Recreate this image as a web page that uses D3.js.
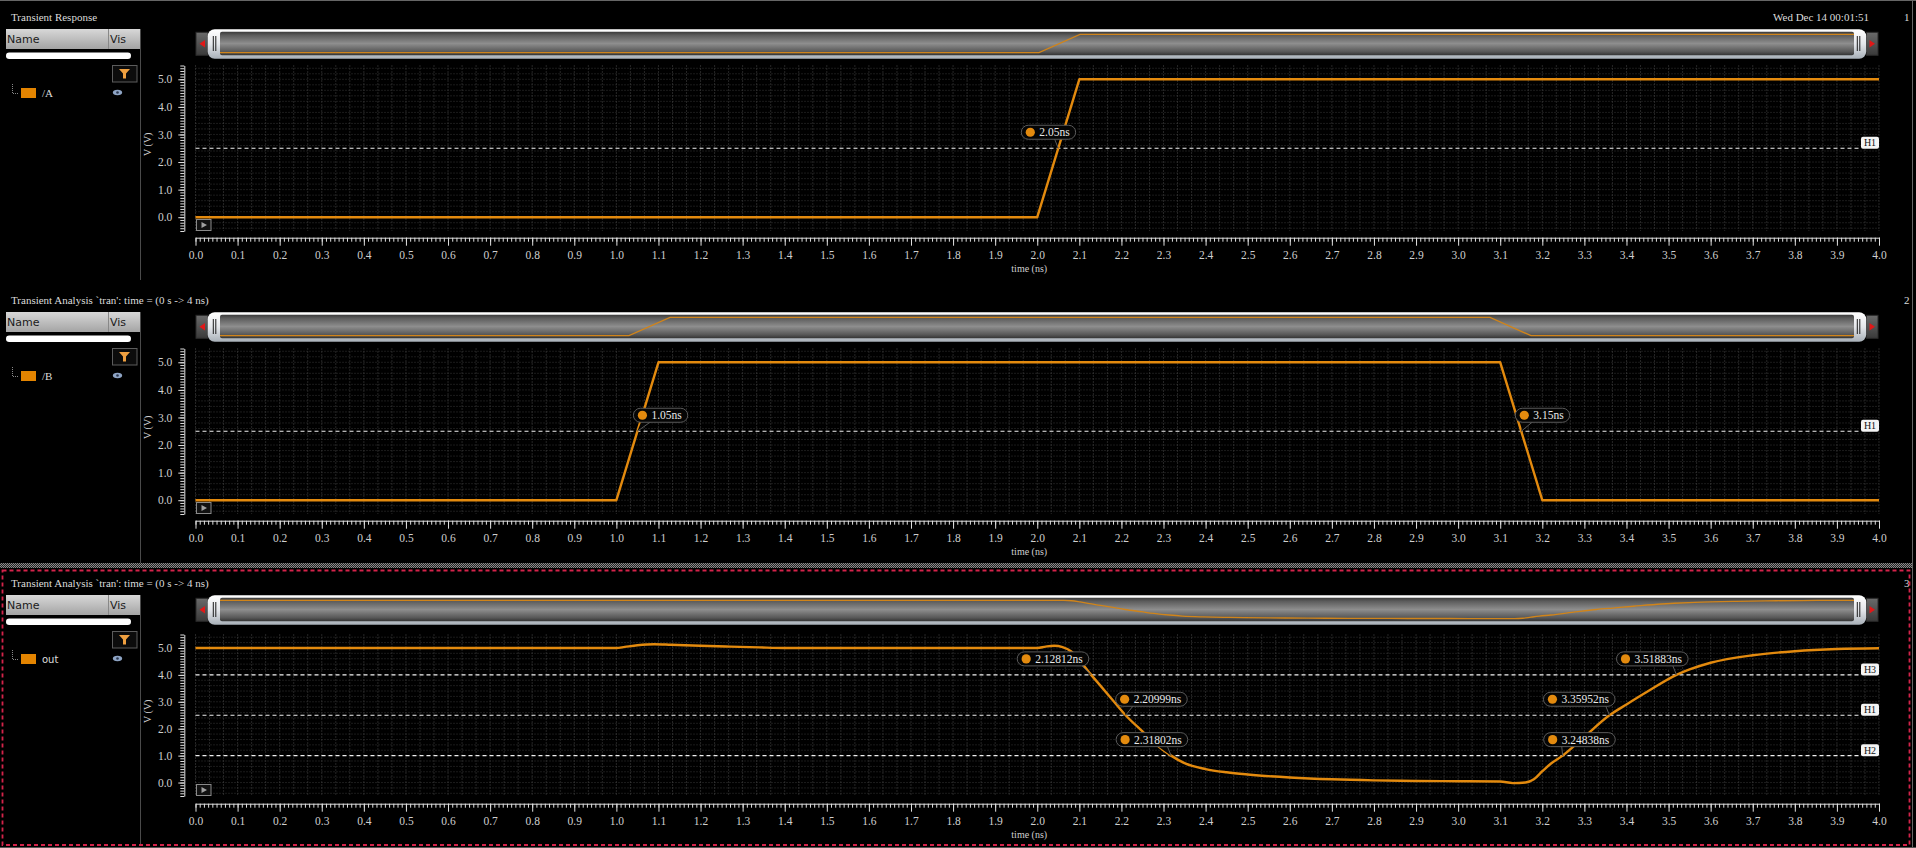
<!DOCTYPE html>
<html>
<head>
<meta charset="utf-8">
<script src="https://cdn.jsdelivr.net/npm/d3@7"></script>
<style>
  html, body { margin: 0; padding: 0; background: #000; overflow: hidden; }
  svg { display: block; }
</style>
</head>
<body>
<div id="chart"></div>
<script>
var W = 1916, H = 848;
var SERIF = '"Liberation Serif", "DejaVu Serif", serif';
var SANS = '"DejaVu Sans", "Noto Sans", sans-serif';
var ORANGE = "#e38a0e";

// tick labels
var timeTicks = [0.0, 0.1, 0.2, 0.3, 0.4, 0.5, 0.6, 0.7, 0.8, 0.9, 1.0, 1.1, 1.2, 1.3, 1.4, 1.5, 1.6, 1.7, 1.8, 1.9,
  2.0, 2.1, 2.2, 2.3, 2.4, 2.5, 2.6, 2.7, 2.8, 2.9, 3.0, 3.1, 3.2, 3.3, 3.4, 3.5, 3.6, 3.7, 3.8, 3.9, 4.0];
var voltTicks = [0, 1, 2, 3, 4, 5];

// signal /A
var aTime = [0, 2.0, 2.1, 4.0];
var aVolt = [0, 0, 5, 5];
// signal /B
var bTime = [0, 1.0, 1.1, 3.1, 3.2, 4.0];
var bVolt = [0, 0, 5, 5, 0, 0];
// signal out
var outTime = [0, 1.0, 1.02, 1.05, 1.09, 1.13, 1.2, 1.27, 1.34, 1.4, 2.0, 2.02, 2.04, 2.06, 2.08, 2.1,
  2.12812, 2.15, 2.18, 2.20999, 2.25, 2.28, 2.31802, 2.35, 2.4, 2.45, 2.5, 2.6, 2.7, 2.8, 2.9, 3.0, 3.1,
  3.13, 3.16, 3.18, 3.2, 3.22, 3.24838, 3.3, 3.35952, 3.4, 3.45, 3.51883, 3.55, 3.6, 3.7, 3.8, 3.9, 4.0];
var outVolt = [5.0, 5.0, 5.04, 5.1, 5.14, 5.12, 5.08, 5.05, 5.02, 5.0, 5.0, 5.05, 5.08, 5.03, 4.88, 4.55,
  4.0, 3.6, 3.05, 2.5, 1.9, 1.45, 1.0, 0.72, 0.5, 0.38, 0.3, 0.19, 0.12, 0.08, 0.06, 0.05, 0.04,
  -0.02, 0.0, 0.12, 0.42, 0.7, 1.0, 1.7, 2.5, 2.9, 3.38, 4.0, 4.2, 4.45, 4.73, 4.88, 4.96, 4.99];

// crossing markers
var aMarkers = [{t: 2.05, v: 2.5, label: "2.05ns"}];
var bMarkers = [{t: 1.05, v: 2.5, label: "1.05ns"}, {t: 3.15, v: 2.5, label: "3.15ns"}];
var outMarkers = [
  {t: 2.12812, v: 4.0, label: "2.12812ns"}, {t: 2.20999, v: 2.5, label: "2.20999ns"},
  {t: 2.31802, v: 1.0, label: "2.31802ns"}, {t: 3.24838, v: 1.0, label: "3.24838ns"},
  {t: 3.35952, v: 2.5, label: "3.35952ns"}, {t: 3.51883, v: 4.0, label: "3.51883ns"}];

// horizontal marker levels
var aLevels = [{name: "H1", v: 2.5}];
var bLevels = [{name: "H1", v: 2.5}];
var outLevels = [{name: "H3", v: 4.0}, {name: "H1", v: 2.5}, {name: "H2", v: 1.0}];

var panels = [
  {title: "Transient Response", signal: "/A", font: SERIF, time: aTime, volt: aVolt, curve: d3.curveLinear,
    markers: aMarkers, levels: aLevels, boxDx: [-37], yr: [231, 65.5]},
  {title: "Transient Analysis `tran': time = (0 s -> 4 ns)", signal: "/B", font: SERIF, time: bTime, volt: bVolt,
    curve: d3.curveLinear, markers: bMarkers, levels: bLevels, boxDx: [-4, -6], yr: [231, 65.5]},
  {title: "Transient Analysis `tran': time = (0 s -> 4 ns)", signal: "out", font: SANS, time: outTime, volt: outVolt,
    curve: d3.curveMonotoneX, markers: outMarkers, levels: outLevels, boxDx: [-74, -10, -55, -19, -66, -60],
    yr: [230, 68.5]}
];

var svg = d3.select("#chart").append("svg")
  .attr("width", W).attr("height", H)
  .style("background", "#000");

var defs = svg.append("defs");
function grad(id, stops) {
  var g = defs.append("linearGradient").attr("id", id)
    .attr("x1", 0).attr("y1", 0).attr("x2", 0).attr("y2", 1);
  stops.forEach(function (s) {
    g.append("stop").attr("offset", s[0]).attr("stop-color", s[1]);
  });
}
grad("hdr", [[0, "#d8d8d8"], [1, "#a4a4a4"]]);
grad("bezel", [[0, "#ffffff"], [0.5, "#e4e6ea"], [1, "#a8b0b8"]]);
grad("body", [[0, "#3a3a3a"], [0.15, "#5c5c5c"], [0.5, "#8e8e8e"], [0.85, "#575757"], [1, "#333"]]);
grad("btn", [[0, "#6a6a6a"], [1, "#3a3a3a"]]);

var hatch = defs.append("pattern").attr("id", "hatch")
  .attr("width", 2).attr("height", 2).attr("patternUnits", "userSpaceOnUse");
hatch.append("rect").attr("width", 2).attr("height", 2).attr("fill", "#222");
hatch.append("rect").attr("width", 1).attr("height", 1).attr("fill", "#8a8a8a");
hatch.append("rect").attr("x", 1).attr("y", 1).attr("width", 1).attr("height", 1).attr("fill", "#8a8a8a");

var x = d3.scaleLinear().domain([0, 4]).range([195.5, 1879]);
var xm = d3.scaleLinear().domain([0, 4]).range([219, 1859]);

// outer frame
svg.append("line").attr("x1", 0).attr("x2", W).attr("y1", 0.5).attr("y2", 0.5).attr("stroke", "#666");
svg.append("line").attr("x1", 1912.5).attr("x2", 1912.5).attr("y1", 0).attr("y2", H).attr("stroke", "#666");
svg.append("line").attr("x1", 0).attr("x2", W).attr("y1", 847.5).attr("y2", 847.5).attr("stroke", "#555");
svg.append("rect").attr("x", 0).attr("y", 563).attr("width", 1912).attr("height", 5).attr("fill", "url(#hatch)");

panels.forEach(function (p, i) {
  var oy = i * 283;
  var g = svg.append("g");
  var y = d3.scaleLinear().domain([-0.5, 5.5]).range([oy + p.yr[0], oy + p.yr[1]]);
  var ym = d3.scaleLinear().domain([0, 5]).range([oy + 52.7, oy + 34.3]);
  var pts = p.time.map(function (t, k) { return {t: t, v: p.volt[k]}; });

  // grid
  var grid = g.append("g");
  grid.selectAll(".hg").data(y.ticks(30)).join("line")
    .attr("x1", x(0)).attr("x2", x(4))
    .attr("y1", function (d) { return y(d); }).attr("y2", function (d) { return y(d); })
    .attr("stroke", "#363636").attr("stroke-dasharray", "1,2");
  grid.selectAll(".vg").data(d3.range(0, 4.0001, 0.1 / 3)).join("line")
    .attr("x1", function (d) { return x(d); }).attr("x2", function (d) { return x(d); })
    .attr("y1", y(5.5)).attr("y2", y(-0.5))
    .attr("stroke", "#4a4a4a").attr("stroke-dasharray", "1,2");

  // y axis
  g.append("g").attr("transform", "translate(184.3,0)").attr("color", "#e0e0e0")
    .call(d3.axisLeft(y).ticks(60).tickSize(4).tickSizeOuter(0).tickFormat(""));
  var yb = g.append("g").attr("transform", "translate(184.3,0)").attr("color", "#e0e0e0")
    .call(d3.axisLeft(y).tickValues(voltTicks).tickSize(6).tickPadding(6).tickSizeOuter(0)
      .tickFormat(d3.format(".1f")));
  yb.select(".domain").remove();
  yb.selectAll("text").attr("fill", "#cfcfcf").style("font-family", SERIF).style("font-size", "11.5px");

  g.append("text").attr("transform", "translate(151," + (y(2.5) - 4) + ") rotate(-90)")
    .attr("text-anchor", "middle").attr("fill", "#cfcfcf")
    .style("font-family", SERIF).style("font-size", "10px").text("V (V)");

  // x axis
  g.append("g").attr("transform", "translate(0," + (oy + 237.7) + ")").attr("color", "#e0e0e0")
    .call(d3.axisBottom(x).ticks(400).tickSize(4).tickSizeOuter(0).tickFormat(""));
  var xb = g.append("g").attr("transform", "translate(0," + (oy + 237.7) + ")").attr("color", "#e0e0e0")
    .call(d3.axisBottom(x).tickValues(timeTicks).tickSize(8).tickPadding(5).tickSizeOuter(0)
      .tickFormat(d3.format(".1f")));
  xb.select(".domain").remove();
  xb.selectAll("text").attr("fill", "#cfcfcf").style("font-family", SERIF).style("font-size", "11.5px");

  g.append("text").attr("x", (x(0) + x(4)) / 2 - 8).attr("y", oy + 271.5)
    .attr("text-anchor", "middle").attr("fill", "#cfcfcf")
    .style("font-family", SERIF).style("font-size", "10px").text("time (ns)");

  // level lines
  p.levels.forEach(function (l) {
    g.append("line").attr("x1", x(0)).attr("x2", x(4) - 18)
      .attr("y1", y(l.v)).attr("y2", y(l.v))
      .attr("stroke", "#f0f0f0").attr("stroke-width", 1.2).attr("stroke-dasharray", "4,3");
  });

  // waveform
  var line = d3.line().curve(p.curve)
    .x(function (d) { return x(d.t); }).y(function (d) { return y(d.v); });
  g.append("path").datum(pts).attr("d", line)
    .attr("fill", "none").attr("stroke", ORANGE).attr("stroke-width", 2.4)
    .attr("stroke-linejoin", "round");

  // level labels
  p.levels.forEach(function (l) {
    g.append("rect").attr("x", x(4) - 18).attr("y", y(l.v) - 11.5).attr("width", 18).attr("height", 12)
      .attr("rx", 2).attr("fill", "#f4f4f4");
    g.append("text").attr("x", x(4) - 9).attr("y", y(l.v) - 2)
      .attr("text-anchor", "middle").attr("fill", "#111")
      .style("font-family", SERIF).style("font-size", "10px").text(l.name);
  });

  // crossing callouts
  p.markers.forEach(function (m, k) {
    var cx = x(m.t), cy = y(m.v);
    var bx = cx + p.boxDx[k], by = cy - 23, bh = 14;
    var call = g.append("g");
    var txt = call.append("text").attr("x", bx + 18).attr("y", by + 11)
      .attr("fill", "#e8e8e8").style("font-family", SERIF).style("font-size", "11.5px").text(m.label);
    var bw = txt.node().getComputedTextLength() + 24;
    var base = Math.max(bx + 8, Math.min(cx - 14, bx + bw - 18));
    call.insert("path", "text")
      .attr("d", "M" + base + "," + (by + bh - 1) + "L" + (base + 10) + "," + (by + bh - 1) + "L" + cx + "," + cy)
      .attr("fill", "#050505").attr("stroke", "#5a5a5a");
    call.insert("rect", "text").attr("x", bx).attr("y", by).attr("width", bw).attr("height", bh)
      .attr("rx", 7).attr("fill", "#050505").attr("stroke", "#5a5a5a");
    call.insert("circle", "text").attr("cx", bx + 9).attr("cy", by + bh / 2).attr("r", 4.6)
      .attr("fill", ORANGE);
  });

  // play button in plot corner
  g.append("rect").attr("x", 196.5).attr("y", y(-0.5) - 11.5).attr("width", 14.5).attr("height", 11)
    .attr("fill", "#111").attr("stroke", "#8a8a8a");
  g.append("path").attr("d", "M201.5," + (y(-0.5) - 9) + "L207," + (y(-0.5) - 6) + "L201.5," + (y(-0.5) - 3) + "Z")
    .attr("fill", "#a0a0a0");

  // title and panel number
  g.append("text").attr("x", 11).attr("y", oy + 21).attr("fill", "#dcdcdc")
    .style("font-family", SERIF).style("font-size", "11px").text(p.title);
  g.append("text").attr("x", 1904).attr("y", oy + 21).attr("fill", "#dcdcdc")
    .style("font-family", SERIF).style("font-size", "11px").text(String(i + 1));

  // signal list sidebar
  g.append("line").attr("x1", 140.5).attr("x2", 140.5).attr("y1", oy + 29).attr("y2", oy + 280)
    .attr("stroke", "#4a4a4a");
  g.append("rect").attr("x", 6).attr("y", oy + 29).attr("width", 134).attr("height", 20).attr("fill", "url(#hdr)");
  g.append("line").attr("x1", 108.5).attr("x2", 108.5).attr("y1", oy + 29).attr("y2", oy + 49).attr("stroke", "#888");
  g.append("text").attr("x", 7).attr("y", oy + 43).attr("fill", "#1a1a1a")
    .style("font-family", SANS).style("font-size", "11px").text("Name");
  g.append("text").attr("x", 110).attr("y", oy + 43).attr("fill", "#1a1a1a")
    .style("font-family", SANS).style("font-size", "11px").text("Vis");
  g.append("rect").attr("x", 6).attr("y", oy + 52.5).attr("width", 125).attr("height", 6.5).attr("rx", 3.2)
    .attr("fill", "#fff");
  g.append("rect").attr("x", 112.5).attr("y", oy + 65.5).attr("width", 24.5).attr("height", 16.5)
    .attr("fill", "#0c0c0c").attr("stroke", "#5c5c5c");
  g.append("path").attr("d", "M119," + (oy + 69) + "L130," + (oy + 69) + "L126," + (oy + 73.5) + "L126,"
      + (oy + 78.5) + "L123," + (oy + 78.5) + "L123," + (oy + 73.5) + "Z")
    .attr("fill", "#f0a040");
  g.append("path").attr("d", "M12.5," + (oy + 84) + "L12.5," + (oy + 93.5) + "L18," + (oy + 93.5))
    .attr("fill", "none").attr("stroke", "#888").attr("stroke-dasharray", "1,1");
  g.append("rect").attr("x", 21).attr("y", oy + 88).attr("width", 15).attr("height", 10).attr("fill", "#e38400");
  g.append("text").attr("x", 42).attr("y", oy + 97).attr("fill", "#dcdcdc")
    .style("font-family", p.font).style("font-size", p.font === SANS ? "10px" : "11px").text(p.signal);
  g.append("ellipse").attr("cx", 117.5).attr("cy", oy + 92.5).attr("rx", 4.6).attr("ry", 2.8).attr("fill", "#8ea4c4");
  g.append("circle").attr("cx", 117.5).attr("cy", oy + 92.5).attr("r", 1.3).attr("fill", "#2a3850");

  // date stamp (partly hidden by the scroll bar)
  if (i === 0) {
    g.append("text").attr("x", 1773).attr("y", 21).attr("fill", "#dcdcdc")
      .style("font-family", SERIF).style("font-size", "11px").text("Wed Dec 14 00:01:51");
    g.append("text").attr("x", 1774).attr("y", 38).attr("fill", "#dcdcdc")
      .style("font-family", SERIF).style("font-size", "11px").text("2022");
  }

  // overview scroll bar
  var sb = g.append("g");
  sb.append("rect").attr("x", 196).attr("y", oy + 32.3).attr("width", 12).attr("height", 23)
    .attr("fill", "url(#btn)").attr("stroke", "#2a2a2a");
  sb.append("path").attr("d", "M205," + (oy + 40) + "L199.5," + (oy + 43.7) + "L205," + (oy + 47.4) + "Z")
    .attr("fill", "#e01818");
  sb.append("rect").attr("x", 1866.5).attr("y", oy + 32.3).attr("width", 11.5).attr("height", 23)
    .attr("fill", "url(#btn)").attr("stroke", "#2a2a2a");
  sb.append("path").attr("d", "M1869.5," + (oy + 40) + "L1875," + (oy + 43.7) + "L1869.5," + (oy + 47.4) + "Z")
    .attr("fill", "#e01818");
  sb.append("rect").attr("x", 207.7).attr("y", oy + 29.3).attr("width", 1658.5).attr("height", 29.4)
    .attr("rx", 7).attr("fill", "url(#bezel)");
  sb.append("rect").attr("x", 220).attr("y", oy + 31.7).attr("width", 1634).attr("height", 23.6)
    .attr("rx", 2).attr("fill", "url(#body)");
  [213.3, 215.8, 1857.3, 1859.8].forEach(function (gx) {
    sb.append("line").attr("x1", gx).attr("x2", gx).attr("y1", oy + 36).attr("y2", oy + 51)
      .attr("stroke", "#1c1c1c").attr("stroke-width", 1);
  });
  var clipId = "clip" + i;
  defs.append("clipPath").attr("id", clipId).append("rect")
    .attr("x", 220).attr("y", oy + 31.7).attr("width", 1634).attr("height", 23.6);
  var mini = d3.line().curve(p.curve)
    .x(function (d) { return xm(d.t); }).y(function (d) { return ym(Math.max(0, Math.min(5, d.v))); });
  sb.append("path").datum(pts).attr("d", mini).attr("clip-path", "url(#" + clipId + ")")
    .attr("fill", "none").attr("stroke", "#d0841a").attr("stroke-width", 1.3);
});

// selected panel outline
svg.append("rect").attr("x", 2.5).attr("y", 570.5).attr("width", 1907).attr("height", 274.5)
  .attr("fill", "none").attr("stroke", "#d4234a").attr("stroke-width", 1.8).attr("stroke-dasharray", "4,3");
</script>
</body>
</html>
